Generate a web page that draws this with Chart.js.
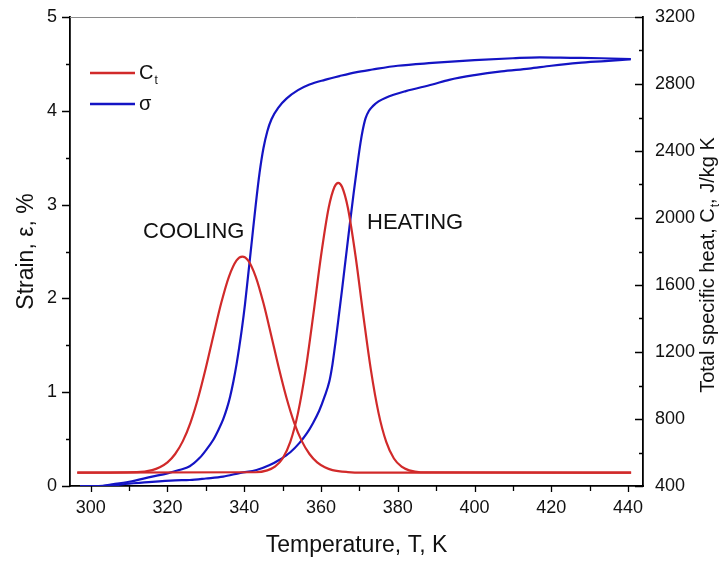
<!DOCTYPE html>
<html>
<head>
<meta charset="utf-8">
<script src="https://cdn.jsdelivr.net/npm/chart.js@4.4.1/dist/chart.umd.min.js"></script>
<style>
  html, body { margin: 0; padding: 0; background: #fff; }
  canvas { display: block; }
</style>
</head>
<body>
<canvas id="shapeChart" width="719" height="561"></canvas>
<script>
// ── DATA ──────────────────────────────────────────────────────

// tick labels
const tempTicks = [300, 320, 340, 360, 380, 400, 420, 440];
const strainTicks = [0, 1, 2, 3, 4, 5];
const heatTicks = [400, 800, 1200, 1600, 2000, 2400, 2800, 3200];

// total specific heat Ct, cooling peak (J/kg K)
const coolCtT = [296.5, 312, 316, 318, 320, 322, 324, 326, 328, 330, 332, 334, 336, 338, 339.5, 341, 343, 345, 347, 349, 351, 353, 355, 357, 359, 361, 363, 367, 371, 440.8];
const coolCt = [480, 483, 495, 512, 541, 591, 668, 779, 927, 1106, 1302, 1492, 1649, 1747, 1770, 1747, 1649, 1492, 1302, 1106, 927, 779, 668, 591, 541, 512, 495, 483, 480, 480];

// total specific heat Ct, heating peak (J/kg K)
const heatCtT = [296.5, 343, 346, 348, 350, 352, 354, 356, 358, 360, 362, 363.5, 364.5, 365.5, 367, 369, 371, 373, 375, 377, 379, 381, 383, 386, 440.8];
const heatCt = [480, 482, 493, 515, 564, 663, 835, 1093, 1423, 1773, 2061, 2185, 2210, 2185, 2061, 1773, 1423, 1093, 835, 663, 564, 515, 493, 482, 480];

// strain, cooling branch (%)
const coolStrainT = [297.2, 302, 306, 310, 316, 320, 323, 325.8, 328.4, 330, 331.9, 333.3, 334.5, 335.5, 336.3, 337.2, 338.0, 338.7, 339.4, 340.2, 341.0, 342.0, 343.0, 344.0, 345.0, 346.0, 347.1, 349.0, 351.0, 354.0, 357.0, 361.0, 364.8, 369.0, 373.4, 380.0, 389.0, 400.0, 410.0, 417.0, 425.0, 433.0, 440.7];
const coolStrain = [0.00, 0.00, 0.02, 0.045, 0.10, 0.135, 0.17, 0.21, 0.30, 0.38, 0.49, 0.60, 0.71, 0.83, 0.95, 1.12, 1.30, 1.48, 1.68, 1.94, 2.24, 2.62, 3.00, 3.34, 3.60, 3.78, 3.91, 4.04, 4.13, 4.22, 4.28, 4.33, 4.37, 4.41, 4.44, 4.48, 4.51, 4.54, 4.56, 4.57, 4.565, 4.56, 4.55];

// strain, heating branch (%)
const heatStrainT = [297.2, 303, 310, 316, 322, 325.8, 330, 334.5, 339, 343.2, 346.5, 349.2, 352, 354.4, 356.3, 357.9, 359.5, 360.9, 362.2, 363.0, 363.8, 364.6, 365.5, 366.4, 367.5, 368.5, 369.5, 370.3, 370.9, 371.6, 372.5, 373.5, 375.0, 376.9, 382.1, 389.0, 393.4, 400.0, 407.0, 414.2, 420.0, 427.1, 434.0, 440.7];
const heatStrain = [0.00, 0.00, 0.025, 0.045, 0.06, 0.064, 0.08, 0.10, 0.14, 0.17, 0.22, 0.28, 0.36, 0.46, 0.56, 0.67, 0.80, 0.95, 1.12, 1.30, 1.54, 1.80, 2.10, 2.41, 2.79, 3.12, 3.43, 3.66, 3.80, 3.92, 4.00, 4.05, 4.10, 4.14, 4.21, 4.28, 4.33, 4.38, 4.42, 4.45, 4.48, 4.51, 4.53, 4.55];

// ── STYLE ─────────────────────────────────────────────────────

const FONT = "'Liberation Sans', Arial, Helvetica, sans-serif";
const RED = '#d12a2a';
const BLUE = '#1414c4';
const INK = '#111';

Chart.defaults.font.family = FONT;
Chart.defaults.color = INK;

const toPoints = (xs, ys) => xs.map((x, i) => ({ x: x, y: ys[i] }));
const fixTicks = (values) => (scale) => { scale.ticks = values.map(v => ({ value: v })); };
const plainLabel = (v) => String(v);

// ── EXTRA DRAWING: minor ticks, top frame, legend, labels ─────

const decorPlugin = {
    id: 'decor',
    afterDraw(chart) {
        const { ctx, chartArea: area, scales } = chart;
        ctx.save();

        // thin grey top frame
        ctx.strokeStyle = '#8a8a8a';
        ctx.lineWidth = 1;
        ctx.beginPath();
        ctx.moveTo(area.left, area.top + 0.5);
        ctx.lineTo(area.right, area.top + 0.5);
        ctx.stroke();

        ctx.strokeStyle = '#000';
        ctx.lineWidth = 1.3;
        ctx.beginPath();
        // bottom axis ticks, outward
        for (let v = 300; v <= 440; v += 10) {
            const px = Math.round(scales.x.getPixelForValue(v)) + 0.5;
            const len = v % 20 === 0 ? 6 : 5;
            ctx.moveTo(px, area.bottom);
            ctx.lineTo(px, area.bottom + len);
        }
        // left axis ticks, outward
        for (let v = 0; v <= 5; v += 0.5) {
            const py = Math.round(scales.y.getPixelForValue(v)) + 0.5;
            const len = Number.isInteger(v) ? 8 : 4;
            ctx.moveTo(area.left, py);
            ctx.lineTo(area.left - len, py);
        }
        // right axis ticks, inward
        for (let v = 400; v <= 3200; v += 200) {
            const py = Math.round(scales.y2.getPixelForValue(v)) + 0.5;
            const len = v % 400 === 0 ? 8 : 4;
            ctx.moveTo(area.right, py);
            ctx.lineTo(area.right - len, py);
        }
        ctx.stroke();

        // legend
        const items = [
            { color: RED, main: 'C', sub: 't', y: 73 },
            { color: BLUE, main: 'σ', sub: '', y: 104 }
        ];
        items.forEach(it => {
            ctx.strokeStyle = it.color;
            ctx.lineWidth = 2.5;
            ctx.beginPath();
            ctx.moveTo(90, it.y);
            ctx.lineTo(135, it.y);
            ctx.stroke();
            ctx.fillStyle = INK;
            ctx.textBaseline = 'middle';
            ctx.textAlign = 'left';
            ctx.font = '20px ' + FONT;
            ctx.fillText(it.main, 139, it.y);
            if (it.sub) {
                const w = ctx.measureText(it.main).width;
                ctx.font = '12px ' + FONT;
                ctx.fillText(it.sub, 139 + w + 1, it.y + 8);
            }
        });

        // annotations
        ctx.font = '22px ' + FONT;
        ctx.fillStyle = INK;
        ctx.textAlign = 'left';
        ctx.textBaseline = 'middle';
        ctx.fillText('COOLING', 143, 232);
        ctx.fillText('HEATING', 367, 223);

        // right axis title, reading bottom to top, with subscript
        ctx.translate(708, 265);
        ctx.rotate(-Math.PI / 2);
        const partA = 'Total specific heat, C';
        const partB = 't';
        const partC = ', J/kg K';
        ctx.font = '20px ' + FONT;
        const wA = ctx.measureText(partA).width;
        const wC = ctx.measureText(partC).width;
        ctx.font = '12px ' + FONT;
        const wB = ctx.measureText(partB).width + 1;
        let x0 = -(wA + wB + wC) / 2;
        ctx.font = '20px ' + FONT;
        ctx.fillText(partA, x0, 0);
        ctx.font = '12px ' + FONT;
        ctx.fillText(partB, x0 + wA + 1, 8);
        ctx.font = '20px ' + FONT;
        ctx.fillText(partC, x0 + wA + wB, 0);

        ctx.restore();
    }
};

// ── CHART ─────────────────────────────────────────────────────

const lineStyle = (color) => ({
    borderColor: color,
    backgroundColor: color,
    borderWidth: 2.2,
    pointRadius: 0,
    fill: false,
    cubicInterpolationMode: 'monotone'
});

new Chart(document.getElementById('shapeChart'), {
    type: 'line',
    data: {
        datasets: [
            { label: 'Ct', data: toPoints(coolCtT, coolCt), yAxisID: 'y2', ...lineStyle(RED) },
            { label: 'Ct', data: toPoints(heatCtT, heatCt), yAxisID: 'y2', ...lineStyle(RED) },
            { label: 'σ', data: toPoints(coolStrainT, coolStrain), yAxisID: 'y', ...lineStyle(BLUE) },
            { label: 'σ', data: toPoints(heatStrainT, heatStrain), yAxisID: 'y', ...lineStyle(BLUE) }
        ]
    },
    options: {
        responsive: false,
        animation: false,
        devicePixelRatio: 1,
        layout: { padding: { top: 17, left: 0, right: 0, bottom: 0 } },
        plugins: {
            legend: { display: false },
            tooltip: { enabled: false }
        },
        scales: {
            x: {
                type: 'linear',
                min: 294.6,
                max: 443.9,
                afterBuildTicks: fixTicks(tempTicks),
                afterFit: (s) => { s.height = 75; s.paddingLeft = 0; s.paddingRight = 0; },
                grid: { display: false, drawTicks: false },
                border: { display: true, color: '#000', width: 1.8 },
                ticks: { font: { size: 18 }, color: INK, padding: 11, maxRotation: 0, callback: plainLabel },
                title: { display: true, text: 'Temperature, T, K', font: { size: 23 }, color: INK, padding: { top: 0, bottom: 2 } }
            },
            y: {
                type: 'linear',
                position: 'left',
                min: 0,
                max: 5,
                afterBuildTicks: fixTicks(strainTicks),
                afterFit: (s) => { s.width = 70; s.paddingTop = 0; s.paddingBottom = 0; },
                grid: { display: false, drawTicks: false },
                border: { display: true, color: '#000', width: 1.8 },
                ticks: { font: { size: 18 }, color: INK, padding: 13, callback: plainLabel },
                title: { display: true, text: 'Strain, ε, %', font: { size: 23 }, color: INK, padding: { top: 13, bottom: 0 } }
            },
            y2: {
                type: 'linear',
                position: 'right',
                min: 400,
                max: 3200,
                afterBuildTicks: fixTicks(heatTicks),
                afterFit: (s) => { s.width = 76; s.paddingTop = 0; s.paddingBottom = 0; },
                grid: { display: false, drawTicks: false },
                border: { display: true, color: '#000', width: 1.8 },
                ticks: { font: { size: 18 }, color: INK, padding: 12, callback: plainLabel }
            }
        }
    },
    plugins: [decorPlugin]
});
</script>
</body>
</html>
